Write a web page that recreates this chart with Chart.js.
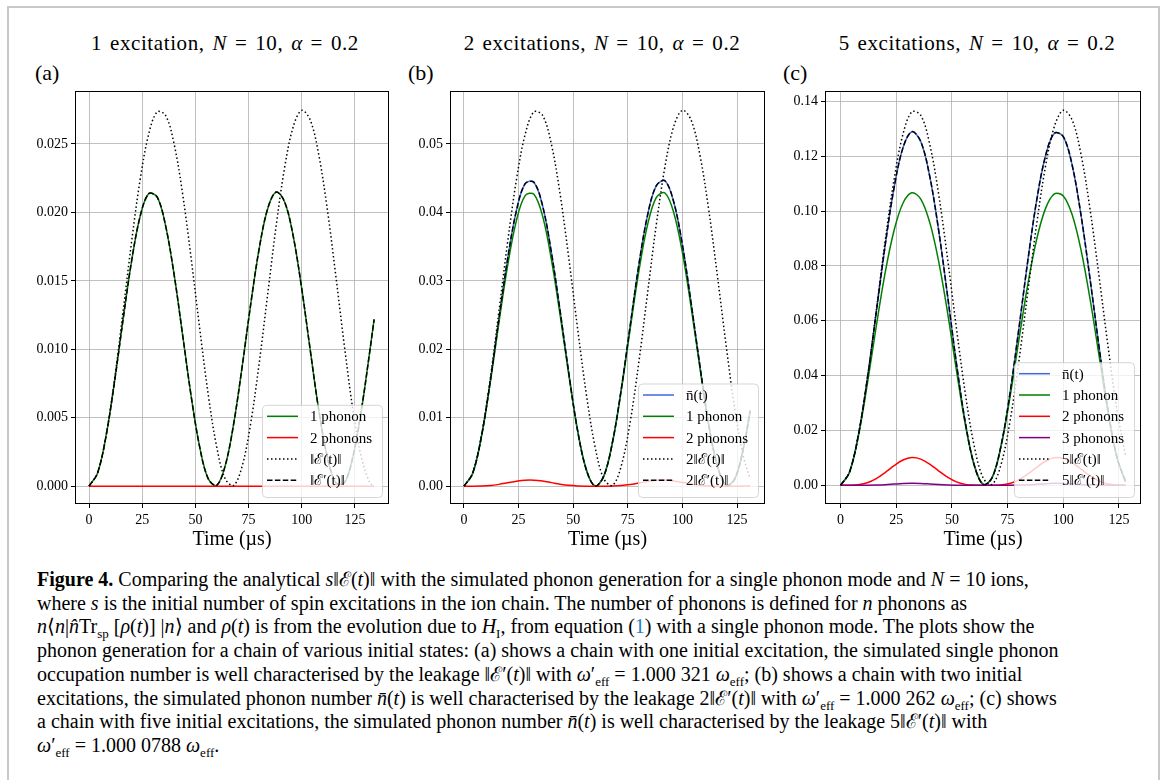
<!DOCTYPE html>
<html>
<head>
<meta charset="utf-8">
<script src="https://cdn.jsdelivr.net/npm/chart.js@4.4.1/dist/chart.umd.min.js"></script>
<style>
  html, body { margin:0; padding:0; background:#fff; }
  body { width:1168px; height:780px; position:relative; overflow:hidden; font-family:"Liberation Serif", serif; color:#000; }
  .frame { position:absolute; left:7px; top:6px; width:1149px; height:800px; border:2px solid #c9c9c9; }
  canvas { position:absolute; }
  .ttl { position:absolute; font-size:21px; letter-spacing:0.6px; word-spacing:2px; white-space:nowrap; transform:translate(-50%,-50%); }
  .lbl { position:absolute; font-size:22px; white-space:nowrap; transform:translateY(-50%); }
  .cap { position:absolute; left:37px; top:568px; font-size:20px; line-height:23.7px; white-space:nowrap; }
  .cap sub { font-size:13px; line-height:0; }
  .blue { color:#1a7fc1; }
</style>
</head>
<body>
<div class="frame"></div>

<div class="ttl" style="left:225px;top:43px">1 excitation, <i>N</i> = 10, <i>α</i> = 0.2</div>
<div class="ttl" style="left:602px;top:43px">2 excitations, <i>N</i> = 10, <i>α</i> = 0.2</div>
<div class="ttl" style="left:977px;top:43px">5 excitations, <i>N</i> = 10, <i>α</i> = 0.2</div>
<div class="lbl" style="left:35px;top:73px">(a)</div>
<div class="lbl" style="left:408px;top:73px">(b)</div>
<div class="lbl" style="left:783px;top:73px">(c)</div>

<canvas id="ca" width="390" height="480" style="left:10px;top:80px"></canvas>
<canvas id="cb" width="380" height="480" style="left:395px;top:80px"></canvas>
<canvas id="cc" width="385" height="480" style="left:770px;top:80px"></canvas>

<div class="cap">
<b>Figure 4.</b> Comparing the analytical <i>s</i>‖ℰ(<i>t</i>)‖ with the simulated phonon generation for a single phonon mode and <i>N</i> = 10 ions,<br>
where <i>s</i> is the initial number of spin excitations in the ion chain. The number of phonons is defined for <i>n</i> phonons as<br>
<i>n</i>⟨<i>n</i>|<i>n̂</i>Tr<sub>sp</sub> [<i>ρ</i>(<i>t</i>)] |<i>n</i>⟩ and <i>ρ</i>(<i>t</i>) is from the evolution due to <i>H</i><sub>I</sub>, from equation (<span class="blue">1</span>) with a single phonon mode. The plots show the<br>
phonon generation for a chain of various initial states: (a) shows a chain with one initial excitation, the simulated single phonon<br>
occupation number is well characterised by the leakage ‖ℰ′(<i>t</i>)‖ with <i>ω</i>′<sub>eff</sub> = 1.000 321 <i>ω</i><sub>eff</sub>; (b) shows a chain with two initial<br>
excitations, the simulated phonon number <i>n̄</i>(<i>t</i>) is well characterised by the leakage 2‖ℰ′(<i>t</i>)‖ with <i>ω</i>′<sub>eff</sub> = 1.000 262 <i>ω</i><sub>eff</sub>; (c) shows<br>
a chain with five initial excitations, the simulated phonon number <i>n̄</i>(<i>t</i>) is well characterised by the leakage 5‖ℰ′(<i>t</i>)‖ with<br>
<i>ω</i>′<sub>eff</sub> = 1.000 0788 <i>ω</i><sub>eff</sub>.
</div>

<script>
// ---------------- DATA ----------------
const xTicks = [0, 25, 50, 75, 100, 125];
const yTicksA = [0, 0.005, 0.010, 0.015, 0.020, 0.025];
const yTicksB = [0, 0.01, 0.02, 0.03, 0.04, 0.05];
const yTicksC = [0, 0.02, 0.04, 0.06, 0.08, 0.10, 0.12, 0.14];

// Panel (a): 1 excitation
const timesA = [0,4,8,12,16,20,24,28,32,36,40,44,48,52,56,60,64,68,72,76,80,84,88,92,96,100,104,108,112,116,120,124,128,132,134];
const a_phonon1 = [0,0.00096,0.00367,0.00765,0.01218,0.01645,0.01970,0.02136,0.02113,0.01902,0.01545,0.01104,0.00658,0.00287,0.00055,0.00006,0.00149,0.00457,0.00876,0.01330,0.01738,0.02029,0.02149,0.02075,0.01825,0.01441,0.00992,0.00555,0.00212,0.00024,0.00024,0.00212,0.00554,0.00989,0.01218];
const a_phonon2 = [0,0,0,0,0,0,0,0,0,0,0,0,0,0,0,0,0,0,0,0,0,0,0,0,0,0,0,0,0,0,0,0,0,0,0];
const a_E = [0,0.000955,0.003688,0.007817,0.012769,0.017857,0.022375,0.025694,0.027338,0.027090,0.024993,0.021343,0.016641,0.011535,0.006724,0.002878,0.000540,0.000060,0.001483,0.004609,0.009005,0.014055,0.019075,0.023337,0.026273,0.027454,0.026739,0.024201,0.020229,0.015374,0.010288,0.005608,0.002114,0.000241,0];
const a_Eprime = [0,0.00096,0.00367,0.00765,0.01218,0.01645,0.01970,0.02136,0.02113,0.01902,0.01545,0.01104,0.00658,0.00287,0.00055,0.00006,0.00149,0.00457,0.00876,0.01330,0.01738,0.02029,0.02149,0.02075,0.01825,0.01441,0.00992,0.00555,0.00212,0.00024,0.00024,0.00212,0.00554,0.00989,0.01218];

// Panel (b): 2 excitations
const timesB = [0,4,8,12,16,20,24,28,32,36,40,44,48,52,56,60,64,68,72,76,80,84,88,92,96,100,104,108,112,116,120,124,128,131];
const b_nbar = [0,0.00191,0.00730,0.01526,0.02444,0.03326,0.04025,0.04420,0.04441,0.04095,0.03419,0.02561,0.01647,0.00817,0.00241,0.00003,0.00147,0.00646,0.01417,0.02327,0.03224,0.03954,0.04389,0.04462,0.04155,0.03525,0.02672,0.01759,0.00909,0.00297,0.00012,0.00108,0.00567,0.01104];
const b_phonon1 = [0,0.00190,0.00725,0.01505,0.02390,0.03227,0.03880,0.04245,0.04265,0.03945,0.03314,0.02502,0.01623,0.00811,0.00240,0.00003,0.00146,0.00642,0.01399,0.02278,0.03131,0.03814,0.04217,0.04283,0.04000,0.03414,0.02608,0.01731,0.00901,0.00296,0.00012,0.00108,0.00564,0.01093];
const b_phonon2 = [0,0.000002,0.000024,0.000104,0.000268,0.000496,0.000726,0.000876,0.000885,0.000752,0.000524,0.000294,0.000122,0.000030,0.000003,0,0.000001,0.000019,0.000090,0.000243,0.000466,0.000701,0.000864,0.000893,0.000774,0.000557,0.000320,0.000139,0.000037,0.000004,0,0.000001,0.000014,0.000055];
const b_E2 = [0,0.00191,0.00738,0.01564,0.02554,0.03571,0.04475,0.05139,0.05468,0.05418,0.04999,0.04269,0.03328,0.02307,0.01345,0.00576,0.00108,0.00012,0.00297,0.00922,0.01801,0.02811,0.03815,0.04667,0.05255,0.05491,0.05348,0.04840,0.04046,0.03075,0.02058,0.01122,0.00423,0.00108];
const b_Eprime2 = [0,0.00191,0.00730,0.01526,0.02444,0.03326,0.04025,0.04420,0.04441,0.04095,0.03419,0.02561,0.01647,0.00817,0.00241,0.00003,0.00147,0.00646,0.01417,0.02327,0.03224,0.03954,0.04389,0.04462,0.04155,0.03525,0.02672,0.01759,0.00909,0.00297,0.00012,0.00108,0.00567,0.01104];

// Panel (c): 5 excitations
const timesC = [0,4,8,12,16,20,24,28,32,36,40,44,48,52,56,60,64,68,72,76,80,84,88,92,96,100,104,108,112,116,120,124,128];
const c_nbar = [0,0.00476,0.01834,0.03875,0.06294,0.08737,0.10840,0.12303,0.12892,0.12535,0.11278,0.09316,0.06932,0.04457,0.02289,0.00739,0.00030,0.00269,0.01421,0.03316,0.05673,0.08147,0.10364,0.12006,0.12834,0.12713,0.11668,0.09830,0.07536,0.05085,0.02786,0.01052,0.00120];
const c_phonon1 = [0,0.00473,0.01793,0.03687,0.05789,0.07746,0.09290,0.10283,0.10665,0.10435,0.09594,0.08184,0.06316,0.04207,0.02224,0.00732,0.00030,0.00268,0.01396,0.03179,0.05264,0.07288,0.08951,0.10087,0.10628,0.10550,0.09860,0.08564,0.06805,0.04759,0.02690,0.01039,0.00120];
const c_phonon2 = [0,0.00001,0.00020,0.00091,0.00241,0.00463,0.00713,0.00919,0.01009,0.00954,0.00772,0.00527,0.00292,0.00121,0.00032,0.00003,0,0,0.00012,0.00067,0.00195,0.00403,0.00652,0.00875,0.01000,0.00981,0.00826,0.00587,0.00345,0.00157,0.00047,0.00007,0];
const c_phonon3 = [0,0,0.000002,0.000019,0.000081,0.000217,0.000415,0.000607,0.000699,0.000642,0.000468,0.000264,0.000109,0.000029,0.000004,0,0,0,0.000001,0.000012,0.000060,0.000176,0.000363,0.000564,0.000689,0.000670,0.000518,0.000310,0.000140,0.000043,0.000007,0,0];
const c_E5 = [0,0.00476,0.01836,0.03893,0.06359,0.08893,0.11143,0.12796,0.13614,0.13491,0.12447,0.10629,0.08287,0.05744,0.03349,0.01433,0.00269,0.00030,0.00739,0.02296,0.04484,0.06999,0.09500,0.11622,0.13084,0.13672,0.13316,0.12052,0.10074,0.07656,0.05123,0.02793,0.01053];
const c_Eprime5 = [0,0.00476,0.01834,0.03875,0.06294,0.08737,0.10840,0.12303,0.12892,0.12535,0.11278,0.09316,0.06932,0.04457,0.02289,0.00739,0.00030,0.00269,0.01421,0.03316,0.05673,0.08147,0.10364,0.12006,0.12834,0.12713,0.11668,0.09830,0.07536,0.05085,0.02786,0.01052,0.00120];

// ---------------- STYLE ----------------
const FONT = '"Liberation Serif", "DejaVu Serif", serif';
const STY = {
  nbar:  { color:'#4169e1', dash:[] },
  p1:    { color:'#008000', dash:[] },
  p2:    { color:'#ff0000', dash:[] },
  p3:    { color:'#800080', dash:[] },
  E:     { color:'#000000', dash:[1.5, 2.5] },
  Ep:    { color:'#000000', dash:[5.5, 2.4] }
};

function ds(label, xs, ys, sty, order) {
  return {
    label, order,
    data: xs.map((x, i) => ({ x, y: ys[i] })),
    borderColor: sty.color, borderDash: sty.dash, borderWidth: 1.5,
    pointRadius: 0, fill: false, tension: 0.35
  };
}

const framePlugin = {
  id: 'frame',
  afterDraw(chart) {
    const a = chart.chartArea, ctx = chart.ctx;
    ctx.save();
    ctx.strokeStyle = '#000'; ctx.lineWidth = 1; ctx.setLineDash([]);
    ctx.strokeRect(Math.round(a.left) + 0.5, Math.round(a.top) + 0.5, Math.round(a.right - a.left) - 1, Math.round(a.bottom - a.top) - 1);
    ctx.restore();
  }
};

const legendPlugin = {
  id: 'boxLegend',
  afterDatasetsDraw(chart) {
    const a = chart.chartArea, ctx = chart.ctx;
    const sets = chart.data.datasets;
    const rowH = 21.3, w = 120, h = 7 + rowH * sets.length;
    const right = a.right - 7, bottom = a.bottom - 7;
    const left = right - w, top = bottom - h;
    ctx.save();
    ctx.beginPath();
    ctx.roundRect(left + 0.5, top + 0.5, w, h, 4);
    ctx.fillStyle = 'rgba(255,255,255,0.8)';
    ctx.fill();
    ctx.strokeStyle = 'rgba(204,204,204,0.8)'; ctx.lineWidth = 1;
    ctx.stroke();
    ctx.font = '15px ' + FONT; ctx.textBaseline = 'middle'; ctx.fillStyle = '#000';
    sets.forEach((d, i) => {
      const cy = top + 11.5 + i * rowH;
      ctx.beginPath();
      ctx.setLineDash(d.borderDash || []);
      ctx.strokeStyle = d.borderColor; ctx.lineWidth = 1.5;
      ctx.moveTo(left + 5, cy); ctx.lineTo(left + 36, cy); ctx.stroke();
      ctx.setLineDash([]);
      ctx.fillText(d.label, left + 48, cy + 1);
    });
    ctx.restore();
  }
};

function makeChart(id, datasets, cfg) {
  return new Chart(document.getElementById(id), {
    type: 'line',
    data: { datasets },
    plugins: [legendPlugin, framePlugin],
    options: {
      responsive: false, animation: false, devicePixelRatio: 1,
      layout: { padding: { top: 8, right: cfg.padRight, left: 0, bottom: 0 } },
      plugins: { legend: { display: false }, tooltip: { enabled: false } },
      scales: {
        x: {
          type: 'linear', min: cfg.xmin, max: cfg.xmax,
          afterBuildTicks: s => { s.ticks = xTicks.map(v => ({ value: v })); },
          afterFit: s => { s.height = 56; },
          border: { display: false },
          grid: { color: '#b0b0b0', lineWidth: 0.8, tickColor: '#000', tickLength: 4, tickWidth: 1 },
          ticks: { color: '#000', font: { family: FONT, size: 14 }, padding: 4, maxRotation: 0, autoSkip: false,
                   callback: v => String(v) },
          title: { display: true, text: 'Time (µs)', color: '#000', font: { family: FONT, size: 20 }, padding: { top: 0, bottom: 8 } }
        },
        y: {
          type: 'linear', min: cfg.ymin, max: cfg.ymax,
          afterBuildTicks: s => { s.ticks = cfg.yTicks.map(v => ({ value: v })); },
          afterFit: s => { s.width = cfg.yWidth; },
          border: { display: false },
          grid: { color: '#b0b0b0', lineWidth: 0.8, tickColor: '#000', tickLength: 4, tickWidth: 1 },
          ticks: { color: '#000', font: { family: FONT, size: 14 }, padding: 3, autoSkip: false,
                   callback: v => v.toFixed(cfg.dec) }
        }
      }
    }
  });
}

makeChart('ca', [
  ds('1 phonon', timesA, a_phonon1, STY.p1, 3),
  ds('2 phonons', timesA, a_phonon2, STY.p2, 2),
  ds('‖ℰ(t)‖', timesA, a_E, STY.E, 1),
  ds('‖ℰ′(t)‖', timesA, a_Eprime, STY.Ep, 0)
], { xmin: -6.6, xmax: 141, ymin: -0.0013, ymax: 0.02884, yTicks: yTicksA, dec: 3, yWidth: 65, padRight: 11 });

makeChart('cb', [
  ds('n̄(t)', timesB, b_nbar, STY.nbar, 4),
  ds('1 phonon', timesB, b_phonon1, STY.p1, 3),
  ds('2 phonons', timesB, b_phonon2, STY.p2, 2),
  ds('2‖ℰ(t)‖', timesB, b_E2, STY.E, 1),
  ds('2‖ℰ′(t)‖', timesB, b_Eprime2, STY.Ep, 0)
], { xmin: -6.4, xmax: 137.8, ymin: -0.0026, ymax: 0.05768, yTicks: yTicksB, dec: 2, yWidth: 55, padRight: 10 });

makeChart('cc', [
  ds('n̄(t)', timesC, c_nbar, STY.nbar, 5),
  ds('1 phonon', timesC, c_phonon1, STY.p1, 4),
  ds('2 phonons', timesC, c_phonon2, STY.p2, 3),
  ds('3 phonons', timesC, c_phonon3, STY.p3, 2),
  ds('5‖ℰ(t)‖', timesC, c_E5, STY.E, 1),
  ds('5‖ℰ′(t)‖', timesC, c_Eprime5, STY.Ep, 0)
], { xmin: -7.0, xmax: 134.9, ymin: -0.00684, ymax: 0.14362, yTicks: yTicksC, dec: 2, yWidth: 55, padRight: 14 });
</script>
</body>
</html>
